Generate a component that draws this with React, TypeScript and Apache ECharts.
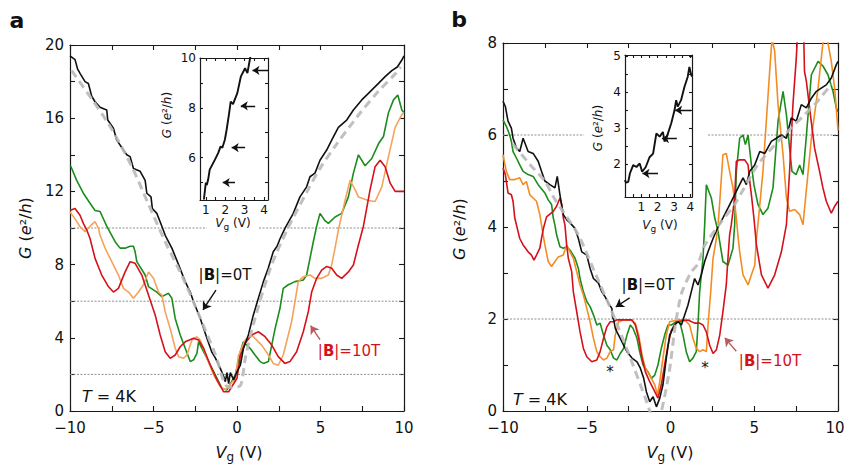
import React, { useEffect, useRef } from "react";
import * as echarts from "echarts";

const FONT = "DejaVu Sans";

// ---------- tick values ----------
const aXTicks = [-10, -7.5, -5, -2.5, 0, 2.5, 5, 7.5, 10];
const aXLabels = [-10, -5, 0, 5, 10];
const aYTicks = [0, 2, 4, 6, 8, 10, 12, 14, 16, 18, 20];
const aYLabels = [0, 4, 8, 12, 16, 20];
const bXTicks = [-10, -7.5, -5, -2.5, 0, 2.5, 5, 7.5, 10];
const bXLabels = [-10, -5, 0, 5, 10];
const bYTicks = [0, 1, 2, 3, 4, 5, 6, 7, 8];
const bYLabels = [0, 2, 4, 6, 8];
const iaXTicks = [1, 1.5, 2, 2.5, 3, 3.5, 4];
const iaXLabels = [1, 2, 3, 4];
const iaYTicks = [5, 6, 7, 8, 9, 10];
const iaYLabels = [6, 8, 10];
const ibXTicks = [0.5, 1, 1.5, 2, 2.5, 3, 3.5, 4];
const ibXLabels = [1, 2, 3, 4];
const ibYTicks = [1.5, 2, 2.5, 3, 3.5, 4, 4.5, 5];
const ibYLabels = [2, 3, 4, 5];

// ---------- panel a (V, G) ----------
const aBlack = [[-10,19.4],[-9.94,19.36],[-9.7,19.2],[-9.55,18.7],[-9.4,18.45],[-9.1,18.0],[-8.9,17.9],[-8.7,17.2],[-8.5,16.9],[-8.2,16.6],[-7.95,16.5],[-7.8,16.45],[-7.74,15.9],[-7.4,15.45],[-7.2,14.8],[-6.8,14.26],[-6.6,14.0],[-6.4,13.9],[-6.2,13.25],[-5.8,13.1],[-5.5,12.6],[-5.4,11.9],[-5.15,11.7],[-5.07,11.07],[-4.8,10.8],[-4.5,10.1],[-4.3,9.6],[-3.9,8.9],[-3.5,8.0],[-3.1,7.07],[-2.8,6.5],[-2.6,5.97],[-2.2,5.06],[-1.8,3.97],[-1.5,3.2],[-1.3,2.9],[-1.0,2.33],[-0.8,1.9],[-0.7,1.6],[-0.6,2.1],[-0.5,1.5],[-0.4,2.1],[-0.2,1.7],[0.0,2.15],[0.2,2.5],[0.38,3.4],[0.68,4.15],[0.98,5.25],[1.28,6.16],[1.58,7.07],[1.87,7.8],[2.17,8.7],[2.4,9.0],[2.57,9.4],[2.87,9.98],[3.37,10.8],[3.77,11.7],[4.17,12.25],[4.37,12.8],[4.67,13.0],[4.97,13.7],[5.37,14.26],[5.67,14.8],[6.07,15.5],[6.57,15.9],[6.97,16.45],[7.47,17.0],[7.87,17.36],[8.47,17.9],[8.87,18.27],[9.27,18.6],[9.6,18.8],[9.87,19.18],[10,19.4]];
const aGreen = [[-10,13.4],[-9.94,13.35],[-9.6,12.6],[-9.2,11.9],[-8.8,11.35],[-8.5,10.96],[-8.2,10.9],[-7.8,10.1],[-7.3,9.25],[-7.0,8.9],[-6.7,8.9],[-6.4,9.0],[-6.2,9.0],[-6.1,8.7],[-6.0,8.16],[-5.5,7.43],[-5.3,6.8],[-4.8,6.5],[-4.5,6.25],[-4.1,6.43],[-3.9,6.16],[-3.7,5.06],[-3.4,4.15],[-3.1,3.43],[-2.8,2.7],[-2.6,2.8],[-2.4,3.15],[-2.3,3.78],[-2.2,3.6],[-1.7,2.7],[-1.3,1.97],[-0.9,1.24],[-0.6,1.15],[-0.1,1.97],[0.2,3.24],[0.38,3.78],[0.78,3.43],[1.08,3.06],[1.38,2.7],[1.58,2.6],[1.88,2.7],[2.08,3.6],[2.28,4.5],[2.57,5.6],[2.77,6.7],[3.07,6.9],[3.47,7.07],[3.97,7.16],[4.17,7.43],[4.37,8.34],[4.57,9.25],[4.77,10.1],[4.97,10.8],[5.27,10.4],[5.47,10.25],[5.87,10.6],[6.27,10.8],[6.67,11.7],[6.97,13.0],[7.27,14.0],[7.67,13.4],[8.07,13.8],[8.47,14.6],[8.77,15.0],[9.07,16.3],[9.37,17.0],[9.63,17.27],[9.87,16.45],[10,16.3]];
const aOrange = [[-10,10.9],[-9.94,10.8],[-9.7,10.5],[-9.4,10.07],[-9.1,9.8],[-8.8,10.1],[-8.5,10.35],[-8.3,10.0],[-8.2,9.6],[-7.9,8.9],[-7.5,8.16],[-7.1,7.43],[-6.8,6.7],[-6.5,6.5],[-6.2,6.16],[-5.9,6.5],[-5.6,6.9],[-5.3,7.6],[-5.0,7.25],[-4.7,6.5],[-4.5,6.34],[-4.3,5.43],[-4.0,4.5],[-3.7,3.43],[-3.5,2.97],[-3.2,2.88],[-3.0,3.06],[-2.7,3.88],[-2.4,4.06],[-2.2,3.88],[-1.8,2.88],[-1.4,1.97],[-1.0,1.33],[-0.7,1.15],[-0.1,1.79],[0.08,3.0],[0.48,3.88],[0.88,4.15],[1.48,3.6],[1.88,3.06],[2.17,2.6],[2.47,2.5],[2.77,3.06],[3.07,4.15],[3.27,4.88],[3.47,5.97],[3.67,7.07],[3.97,7.34],[4.37,7.43],[4.67,7.25],[5.07,7.25],[5.47,7.43],[5.67,7.98],[5.87,8.9],[6.07,9.9],[6.47,11.5],[6.77,12.6],[7.07,12.1],[7.27,11.7],[7.57,11.6],[7.87,11.5],[8.27,11.45],[8.67,12.25],[9.07,13.9],[9.47,15.5],[9.87,16.2],[10,16.3]];
const aRed = [[-10,11.0],[-9.94,10.98],[-9.7,11.07],[-9.4,10.7],[-9.2,10.25],[-9.0,9.9],[-8.8,9.43],[-8.5,8.34],[-8.1,7.43],[-7.7,6.8],[-7.4,6.5],[-7.1,6.7],[-6.7,7.6],[-6.4,8.16],[-6.1,8.07],[-5.7,7.43],[-5.3,6.34],[-4.9,5.25],[-4.6,4.15],[-4.3,3.24],[-4.0,2.88],[-3.7,3.06],[-3.4,3.51],[-3.1,3.78],[-2.6,3.97],[-2.3,3.88],[-2.0,3.43],[-1.6,2.5],[-1.2,1.7],[-0.8,1.05],[-0.5,1.05],[0.0,1.79],[0.2,3.0],[0.48,3.7],[0.88,4.15],[1.28,4.33],[1.68,4.06],[2.08,3.6],[2.47,2.97],[2.87,2.6],[3.17,2.7],[3.57,3.24],[3.97,4.33],[4.27,5.43],[4.47,6.5],[4.77,7.25],[5.07,7.7],[5.37,7.9],[5.67,7.8],[5.97,7.43],[6.27,7.25],[6.67,7.6],[6.97,7.98],[7.27,9.07],[7.57,10.1],[7.97,12.1],[8.27,13.35],[8.57,13.7],[8.87,13.35],[9.17,12.45],[9.47,12.0],[9.87,12.0],[10,12.0]];
const aFit = [[-9.9,18.6],[-7.7,15.7],[-6.3,13.35],[-5.3,11.3],[-4.3,9.25],[-3.3,7.4],[-2.3,5.3],[-1.3,3.1],[-0.5,1.3],[0.15,1.35],[0.5,2.9],[1.0,4.8],[2.0,7.8],[3.0,9.9],[4.2,12.0],[5.0,13.3],[5.9,14.5],[7.3,16.2],[8.4,17.4],[9.5,18.45],[9.8,18.8]];

// ---------- panel b (V, G) ----------
const bBlack = [[-10,6.73],[-9.86,6.62],[-9.7,6.3],[-9.5,6.15],[-9.4,5.93],[-9.2,5.72],[-9.0,5.64],[-8.8,5.93],[-8.5,5.64],[-8.2,5.6],[-7.9,5.43],[-7.7,5.21],[-7.5,5.0],[-7.2,4.92],[-6.9,4.85],[-6.76,5.1],[-6.6,4.7],[-6.4,4.27],[-6.2,4.16],[-6.0,4.09],[-5.7,3.97],[-5.5,3.75],[-5.3,3.46],[-5.0,3.39],[-4.8,3.1],[-4.6,2.88],[-4.3,2.78],[-4.1,2.59],[-3.9,2.48],[-3.7,2.34],[-3.5,2.23],[-3.45,2.02],[-3.4,2.01],[-3.3,1.8],[-3.2,1.72],[-3.0,1.58],[-2.8,1.43],[-2.6,1.29],[-2.3,1.15],[-2.0,1.07],[-1.8,0.93],[-1.6,0.71],[-1.44,0.42],[-1.24,0.2],[-1.04,0.31],[-0.84,0.09],[-0.64,0.28],[-0.45,0.57],[-0.25,1.15],[-0.05,1.65],[0.25,1.87],[0.45,1.94],[0.65,1.87],[0.85,2.09],[1.04,2.3],[1.24,2.59],[1.44,2.88],[1.64,2.74],[1.84,2.96],[2.04,3.25],[2.24,3.46],[2.54,3.75],[2.84,4.0],[3.13,4.2],[3.43,4.41],[3.73,4.63],[4.03,4.85],[4.33,5.07],[4.53,4.92],[4.73,5.21],[5.03,5.35],[5.33,5.64],[5.63,5.6],[6.02,5.86],[6.32,5.93],[6.62,6.0],[6.92,5.93],[7.21,6.37],[7.51,6.3],[7.81,6.66],[8.11,6.59],[8.41,6.8],[8.71,6.95],[9.0,7.02],[9.3,7.09],[9.6,7.24],[9.9,7.53],[10,7.6]];
const bGreen = [[-10,6.33],[-9.8,6.19],[-9.6,6.0],[-9.5,5.86],[-9.4,5.64],[-9.2,5.5],[-9.0,5.35],[-8.8,5.21],[-8.5,5.14],[-8.2,5.1],[-7.9,4.92],[-7.5,4.74],[-7.3,4.59],[-7.1,4.49],[-7.0,4.2],[-6.9,4.04],[-6.8,3.83],[-6.6,3.57],[-6.4,3.54],[-6.2,3.57],[-6.0,3.5],[-5.7,3.32],[-5.5,3.1],[-5.4,2.88],[-5.2,2.59],[-5.0,2.38],[-4.8,2.27],[-4.6,2.09],[-4.4,1.87],[-4.2,1.91],[-4.0,1.65],[-3.8,1.43],[-3.6,1.33],[-3.4,1.15],[-3.2,1.11],[-3.0,1.25],[-2.8,1.36],[-2.6,1.65],[-2.4,1.87],[-2.24,1.8],[-2.0,1.58],[-1.84,1.29],[-1.64,1.0],[-1.34,0.85],[-1.14,0.71],[-0.94,0.78],[-0.75,1.0],[-0.55,1.36],[-0.35,1.65],[-0.15,1.87],[0.05,1.87],[0.35,1.94],[0.55,1.94],[0.75,1.65],[0.94,1.29],[1.14,1.07],[1.34,1.15],[1.54,1.29],[1.64,1.87],[1.74,2.59],[1.94,3.32],[2.04,4.05],[2.14,4.92],[2.44,4.63],[2.64,4.2],[2.84,3.9],[3.13,3.25],[3.43,3.17],[3.73,3.54],[3.83,4.04],[3.93,5.21],[4.13,5.93],[4.33,6.0],[4.47,5.79],[4.63,6.0],[4.83,5.35],[4.98,4.92],[5.22,4.49],[5.52,4.27],[5.82,4.41],[6.12,4.85],[6.42,6.3],[6.72,6.95],[6.92,6.44],[7.11,5.72],[7.25,5.21],[7.5,5.14],[7.71,5.35],[7.91,5.14],[8.1,5.93],[8.41,7.31],[8.81,7.6],[9.1,7.5],[9.4,7.31],[9.7,6.95],[9.9,6.59],[10,6.5]];
const bOrange = [[-10,5.57],[-9.8,5.21],[-9.6,5.03],[-9.3,5.03],[-9.0,5.07],[-8.8,4.92],[-8.6,4.99],[-8.4,4.7],[-8.2,4.63],[-8.0,4.56],[-7.8,4.27],[-7.7,4.04],[-7.5,3.61],[-7.3,3.25],[-7.1,3.14],[-6.9,3.25],[-6.7,3.35],[-6.4,3.39],[-6.2,3.61],[-6.0,3.46],[-5.8,3.32],[-5.6,3.03],[-5.4,2.74],[-5.2,2.52],[-5.0,2.23],[-4.8,1.94],[-4.6,1.58],[-4.4,1.29],[-4.2,1.18],[-4.0,1.11],[-3.8,1.15],[-3.6,1.29],[-3.4,1.33],[-3.3,1.65],[-3.1,1.94],[-2.8,1.98],[-2.4,1.98],[-2.1,1.91],[-1.9,1.65],[-1.7,1.22],[-1.5,0.93],[-1.24,0.78],[-0.94,0.57],[-0.78,0.35],[-0.64,0.64],[-0.45,1.15],[-0.25,1.65],[-0.05,1.94],[0.45,1.98],[0.85,1.98],[1.14,1.87],[1.34,1.58],[1.54,1.36],[1.74,1.29],[1.94,1.33],[2.14,1.29],[2.24,1.87],[2.4,2.59],[2.54,3.32],[2.74,3.75],[2.84,4.04],[2.95,4.6],[3.13,5.57],[3.33,5.6],[3.53,5.21],[3.73,4.85],[3.93,4.2],[4.03,3.8],[4.13,3.46],[4.33,2.96],[4.63,2.74],[4.83,2.96],[5.03,3.17],[5.13,3.75],[5.22,4.05],[5.52,5.21],[5.72,6.3],[5.92,7.38],[6.06,8.1],[6.22,7.82],[6.42,6.66],[6.72,5.57],[6.92,4.63],[7.11,4.34],[7.41,4.38],[7.71,4.27],[7.91,4.05],[8.41,5.93],[8.81,7.02],[9.1,8.0],[9.25,8.4],[9.4,8.0],[9.6,7.6],[9.8,7.02],[10,6.1]];
const bRed = [[-10,5.28],[-9.86,5.14],[-9.7,4.74],[-9.5,4.7],[-9.4,4.56],[-9.3,4.2],[-9.1,3.9],[-9.0,3.75],[-8.8,3.61],[-8.5,3.46],[-8.3,3.39],[-8.15,3.28],[-8.0,3.39],[-7.8,3.54],[-7.7,3.75],[-7.6,3.95],[-7.4,4.22],[-7.0,4.34],[-6.8,4.45],[-6.6,4.63],[-6.5,4.49],[-6.4,4.2],[-6.3,4.04],[-6.2,3.61],[-6.1,3.32],[-5.9,3.03],[-5.8,2.59],[-5.6,2.16],[-5.4,1.72],[-5.2,1.36],[-5.0,1.18],[-4.7,1.07],[-4.4,1.11],[-4.2,1.29],[-4.0,1.58],[-3.8,1.83],[-3.6,1.94],[-3.4,1.94],[-3.2,1.98],[-2.3,1.98],[-2.1,1.87],[-1.9,1.58],[-1.7,1.15],[-1.5,0.85],[-1.24,0.64],[-0.94,0.42],[-0.75,0.28],[-0.55,0.57],[-0.35,1.0],[-0.15,1.43],[0.05,1.75],[0.35,1.94],[1.04,1.98],[1.44,1.91],[1.74,1.91],[1.94,1.87],[2.14,1.72],[2.34,1.43],[2.54,1.25],[2.74,1.33],[2.94,1.65],[3.13,2.16],[3.33,2.74],[3.43,3.32],[3.53,3.83],[3.63,4.05],[3.83,4.63],[3.93,5.43],[4.13,5.46],[4.43,5.46],[4.63,5.35],[4.73,4.99],[4.83,4.7],[4.98,4.2],[5.13,3.61],[5.43,2.96],[5.82,2.67],[6.22,2.96],[6.62,3.46],[6.92,4.05],[7.11,5.21],[7.31,6.66],[7.51,7.67],[7.6,8.3],[7.8,8.6],[7.95,8.2],[8.0,7.38],[8.11,7.17],[8.4,6.3],[8.6,5.72],[8.9,5.21],[9.1,4.85],[9.3,4.56],[9.6,4.3],[9.8,4.45],[10,4.56]];
const bFit = [[-9.4,5.8],[-8.3,5.32],[-7.5,5.0],[-6.9,4.6],[-5.5,3.83],[-4.5,3.0],[-3.5,2.16],[-2.5,1.25],[-1.5,0.28],[-0.85,-0.35],[-0.1,0.8],[0.3,1.9],[0.65,2.55],[1.2,3.0],[1.64,3.2],[2.04,3.6],[3.0,4.1],[3.83,4.49],[5.2,5.35],[6.6,5.93],[8.6,6.66],[9.6,7.1]];

// ---------- insets ----------
const insetA = [[0.9,4.32],[1.0,5.0],[1.05,4.9],[1.12,5.12],[1.2,5.52],[1.47,5.92],[1.64,6.19],[1.76,6.45],[1.85,6.4],[1.98,6.72],[2.07,7.12],[2.2,7.79],[2.28,8.25],[2.4,8.15],[2.62,8.59],[2.8,9.25],[3.02,9.59],[3.14,9.39],[3.28,10.0],[3.35,10.3]];
const insetB = [[0.0,1.57],[0.05,1.5],[0.2,1.52],[0.3,1.75],[0.5,1.98],[0.7,1.93],[0.9,2.03],[1.05,1.8],[1.27,1.93],[1.5,2.2],[1.72,2.3],[1.82,2.58],[1.92,2.86],[2.12,2.77],[2.32,2.9],[2.42,2.63],[2.63,2.86],[2.83,3.14],[3.03,3.5],[3.13,3.78],[3.23,3.6],[3.43,3.78],[3.64,4.15],[3.84,4.43],[3.94,4.7],[4.04,4.5],[4.1,4.43]];
// arrows in insets: [fromV, toV, G]
const insetAArrows = [[2.5,1.87,5.0],[3.02,2.33,6.4],[3.54,2.8,8.08],[4.21,3.4,9.5]];
const insetBArrows = [[2.02,1.07,1.75],[3.17,2.26,2.72],[4.04,3.07,3.5]];
// main-panel arrows: [[fromV, fromG],[toV, toG]]
const aArrow0T = [[-1.26,6.61],[-2.04,5.52]];
const aArrow10T = [[4.97,3.9],[4.41,4.66]];
const bArrow0T = [[-2.44,2.46],[-3.27,2.26]];
const bArrow10T = [[3.93,1.3],[3.24,1.59]];
// dotted reference levels: [G, fromV, toV]
const aRefs = [[2,-10,10],[6,-10,10],[10,-10,-1.8],[10,1.32,10]];
const bRefs = [[2,-10,10],[6,-10,-5.16],[6,2.24,10]];

const C = {
  black: "#111111",
  green: "#1c8c1c",
  orangeA: "#f6a35a",
  orangeB: "#f48c24",
  red: "#d3121b",
  fit: "#b9b9b9",
  ref: "#8f8f8f",
  redArrow: "#b65c5c",
};

const fmt = (v: number) => String(v).replace("-", "\u2212");

function axes(kind: "x" | "y", grid: number, min: number, max: number, ticks: number[], labels: number[], fs: number, margin: number, tickLen: number, nudgeMax = false) {
  const base: any = {
    type: "value",
    gridIndex: grid,
    min,
    max,
    splitLine: { show: false },
    axisLine: { show: true, onZero: false, lineStyle: { color: "#1a1a1a", width: 1.2 } },
    axisTick: { show: true, inside: true, length: tickLen, customValues: ticks, lineStyle: { color: "#1a1a1a", width: 1.1 } },
  };
  const main = {
    ...base,
    position: kind === "x" ? "bottom" : "left",
    axisLabel: {
      show: true,
      customValues: labels,
      fontFamily: FONT,
      fontSize: fs,
      lineHeight: fs - 1,
      color: "#111",
      margin,
      formatter: (v: number) => (nudgeMax && v === max ? "{e|" + fmt(v) + "}" : fmt(v)),
      rich: { e: { fontFamily: FONT, fontSize: fs, lineHeight: fs - 1, color: "#111", padding: [0, 6, 0, 0] } },
    },
  };
  const mirror = { ...base, position: kind === "x" ? "top" : "right", axisLabel: { show: false } };
  return [main, mirror];
}

function curve(data: number[][], color: string, idx: number, width = 1.6, extra: any = {}) {
  return {
    type: "line",
    data,
    xAxisIndex: idx,
    yAxisIndex: idx,
    symbol: "none",
    showSymbol: false,
    silent: true,
    clip: true,
    lineStyle: { color, width },
    itemStyle: { color },
    ...extra,
  };
}

function arrows(list: number[][][], color: string, idx: number, size = 8) {
  return {
    type: "lines",
    coordinateSystem: "cartesian2d",
    xAxisIndex: idx,
    yAxisIndex: idx,
    symbol: ["none", "arrow"],
    symbolSize: size,
    silent: true,
    z: 5,
    lineStyle: { color, width: 1.4, opacity: 1, curveness: 0 },
    data: list.map((c) => ({ coords: c })),
  };
}

function richFor(fs: number, color = "#111") {
  return {
    i: { fontFamily: FONT, fontSize: fs, fontStyle: "italic", fill: color },
    n: { fontFamily: FONT, fontSize: fs, fill: color },
    b: { fontFamily: FONT, fontSize: fs, fontWeight: "bold", fill: color },
    sub: { fontFamily: FONT, fontSize: Math.round(fs * 0.72), fill: color, padding: [Math.round(fs * 0.55), 0, 0, 0] },
  };
}

function label(text: string, x: number, y: number, fs: number, opts: any = {}) {
  const color = opts.color || "#111";
  return {
    type: "text",
    x,
    y,
    rotation: opts.rotation || 0,
    z: 10,
    style: {
      text,
      rich: richFor(fs, color),
      fontFamily: FONT,
      fontSize: fs,
      fontWeight: opts.bold ? "bold" : "normal",
      fill: color,
      align: "center",
      verticalAlign: "middle",
    },
  };
}

const G_NAME = "{i|G}{n| (}{i|e}{n|\u00b2/}{i|h}{n|)}";
const V_NAME = "{i|V}{sub|g}{n| (V)}";

export default function App() {
  const ref = useRef<HTMLDivElement>(null);
  useEffect(() => {
    if (!ref.current) return;
    const chart = echarts.init(ref.current, undefined, { renderer: "svg" });
    const xAxis = [
      ...axes("x", 0, -10, 10, aXTicks, aXLabels, 15, 10, 5),
      ...axes("x", 1, -10, 10, bXTicks, bXLabels, 15, 10, 5, true),
      ...axes("x", 2, 0.7, 4.2, iaXTicks, iaXLabels, 12, 4, 3),
      ...axes("x", 3, 0, 4.1, ibXTicks, ibXLabels, 12, 4, 3),
    ];
    const yAxis = [
      ...axes("y", 0, 0, 20, aYTicks, aYLabels, 15, 6, 5),
      ...axes("y", 1, 0, 8, bYTicks, bYLabels, 15, 6, 5),
      ...axes("y", 2, 4.3, 10, iaYTicks, iaYLabels, 12, 4, 3),
      ...axes("y", 3, 1.1, 5.03, ibYTicks, ibYLabels, 12, 4, 3),
    ];
    // axis index pairs: main axes at 0,2,4,6
    const A = 0, B = 2, IA = 4, IB = 6;
    const refSeries = (refs: number[][], idx: number) =>
      refs.map((r) =>
        curve([[r[1], r[0]], [r[2], r[0]]], C.ref, idx, 1, { lineStyle: { color: C.ref, width: 1, type: [2, 1.5] }, z: 1 })
      );
    const fitStyle = { lineStyle: { color: C.fit, width: 3, type: [8, 5], opacity: 0.9 }, z: 3 };
    const series: any[] = [
      ...refSeries(aRefs, A),
      ...refSeries(bRefs, B),
      curve(aGreen, C.green, A),
      curve(aOrange, C.orangeA, A),
      curve(aRed, C.red, A),
      curve(aBlack, C.black, A),
      curve(aFit, C.fit, A, 3, { smooth: 0.3, ...fitStyle }),
      curve(bGreen, C.green, B),
      curve(bOrange, C.orangeB, B),
      curve(bRed, C.red, B),
      curve(bBlack, C.black, B),
      curve(bFit, C.fit, B, 3, { smooth: 0.2, ...fitStyle }),
      curve(insetA, C.black, IA, 1.9),
      curve(insetB, C.black, IB, 1.9),
      arrows(insetAArrows.map((a) => [[a[0], a[2]], [a[1], a[2]]]), C.black, IA, 7),
      arrows(insetBArrows.map((a) => [[a[0], a[2]], [a[1], a[2]]]), C.black, IB, 7),
      arrows([aArrow0T], C.black, A, 8),
      arrows([aArrow10T], C.redArrow, A, 8),
      arrows([bArrow0T], C.black, B, 8),
      arrows([bArrow10T], C.redArrow, B, 8),
    ];
    const graphic = [
      label("a", 17, 20, 22, { bold: true }),
      label("b", 459, 19, 22, { bold: true }),
      label(G_NAME, 25, 228, 16, { rotation: Math.PI / 2 }),
      label(G_NAME, 459, 229, 16, { rotation: Math.PI / 2 }),
      label(V_NAME, 239, 452, 16),
      label(V_NAME, 670, 452, 16),
      label(G_NAME, 167, 115, 12, { rotation: Math.PI / 2 }),
      label(G_NAME, 598, 128, 12, { rotation: Math.PI / 2 }),
      label(V_NAME, 233, 223, 12),
      label(V_NAME, 660, 225, 12),
      label("{n||}{b|B}{n||=0T}", 225, 275, 15),
      label("{n||}{b|B}{n||=10T}", 349, 351, 15, { color: C.red }),
      label("{n||}{b|B}{n||=0T}", 648, 285, 15),
      label("{n||}{b|B}{n||=10T}", 770, 361, 15, { color: C.red }),
      label("{i|T}{n| = 4K}", 109, 396, 16),
      label("{i|T}{n| = 4K}", 540, 399, 16),
      label("*", 610, 372, 15),
      label("*", 705, 368, 15),
    ];
    chart.setOption({
      animation: false,
      backgroundColor: "#ffffff",
      textStyle: { fontFamily: FONT },
      grid: [
        { left: 70, top: 45, width: 334, height: 366, outerBoundsMode: "none", containLabel: false },
        { left: 503, top: 43, width: 335, height: 368, outerBoundsMode: "none", containLabel: false },
        { left: 200, top: 58, width: 68, height: 142, show: true, backgroundColor: "#fff", borderWidth: 0, outerBoundsMode: "none", containLabel: false },
        { left: 625, top: 55, width: 67, height: 142, show: true, backgroundColor: "#fff", borderWidth: 0, outerBoundsMode: "none", containLabel: false },
      ],
      xAxis,
      yAxis,
      series,
      graphic,
    } as any);
    return () => chart.dispose();
  }, []);
  return (
    <div
      ref={ref}
      style={{ position: "fixed", left: 0, top: 0, width: 846, height: 466, background: "#fff" }}
    />
  );
}
